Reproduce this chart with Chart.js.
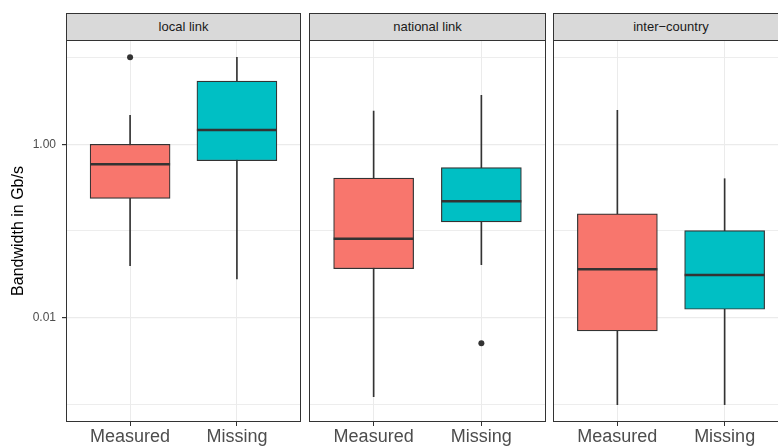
<!DOCTYPE html>
<html>
<head>
<meta charset="utf-8">
<script src="https://cdn.jsdelivr.net/npm/chart.js@4.4.0/dist/chart.umd.min.js"></script>
<style>
body { margin:0; background:#fff; width:778px; height:446px; overflow:hidden; position:relative;
  font-family:"Liberation Sans", Arial, sans-serif; }
.strip { position:absolute; top:13px; height:28px; box-sizing:border-box; background:#D9D9D9;
  border:1px solid #333; color:#1A1A1A; font-size:13px; line-height:26px; text-align:center; white-space:nowrap; }
.panel { position:absolute; top:38px; height:408px; }
</style>
</head>
<body>
<div class="strip" id="strip0"></div>
<div class="strip" id="strip1"></div>
<div class="strip" id="strip2"></div>
<div class="panel" id="box0"><canvas id="panel0"></canvas></div>
<div class="panel" id="box1"><canvas id="panel1"></canvas></div>
<div class="panel" id="box2"><canvas id="panel2"></canvas></div>
<script>
// Data (Bandwidth in Gb/s)
var panelNames = ['local link', 'national link', 'inter\u2212country'];
var groups = ['Measured', 'Missing'];
var groupColors = ['#F8766D', '#00BFC4'];

var whiskerLow  = [[0.0398, 0.0279], [0.00123, 0.0409], [0.000993, 0.000993]];
var boxLow      = [[0.238, 0.647], [0.0367, 0.127], [0.00703, 0.0125]];
var medians     = [[0.588, 1.46], [0.0815, 0.220], [0.0362, 0.0311]];
var boxHigh     = [[1.0, 5.37], [0.408, 0.537], [0.158, 0.1008]];
var whiskerHigh = [[2.16, 10.1], [2.42, 3.67], [2.47, 0.401]];
var outliers    = [[[10.1], []], [[], [0.00507]], [[], []]];

var yTicks = [10, 1, 0.1, 0.01, 0.001];
var yLabels = { '1': '1.00', '0.01': '0.01' };
var yMin = 0.000626;
var yMax = 15.96;

// Layout of the facets
var panelLeft = [66, 309, 553];
var panelWidth = [235, 237, 236];

var panelBorder = {
  id: 'panelBorder',
  afterDatasetsDraw: function(chart) {
    var a = chart.chartArea;
    var ctx = chart.ctx;
    ctx.save();
    ctx.strokeStyle = '#333333';
    ctx.lineWidth = 1;
    ctx.strokeRect(a.left + 0.5, a.top + 0.5, a.right - a.left - 1, a.bottom - a.top - 1);
    ctx.restore();
  }
};

function rangeData(lo, hi) {
  return groups.map(function(g, i) { return { x: i, y: [lo[i], hi[i]] }; });
}

makePanel = function(p) {
  var first = (p === 0);
  var axisWidth = first ? 66 : 0;
  var padLeft = first ? 0 : 2;

  var strip = document.getElementById('strip' + p);
  strip.textContent = panelNames[p];
  strip.style.left = panelLeft[p] + 'px';
  strip.style.width = panelWidth[p] + 'px';

  var box = document.getElementById('box' + p);
  box.style.left = (panelLeft[p] - axisWidth - padLeft) + 'px';
  box.style.width = (axisWidth + padLeft + panelWidth[p] + 3) + 'px';

  var outlierData = [];
  groups.forEach(function(g, i) {
    outliers[p][i].forEach(function(v) { outlierData.push({ x: i, y: v }); });
  });

  var ctx = document.getElementById('panel' + p).getContext('2d');
  new Chart(ctx, {
    type: 'bar',
    data: {
      datasets: [{
        label: 'whiskers',
        data: rangeData(whiskerLow[p], whiskerHigh[p]),
        backgroundColor: '#333333',
        borderWidth: 0,
        grouped: false,
        barThickness: 1,
        maxBarThickness: 1,
        order: 3
      }, {
        label: 'boxes',
        data: rangeData(boxLow[p], boxHigh[p]),
        backgroundColor: groupColors,
        borderColor: '#333333',
        borderWidth: 1.2,
        borderSkipped: false,
        grouped: false,
        barThickness: 80,
        maxBarThickness: 80,
        order: 2
      }, {
        type: 'line',
        label: 'median',
        data: groups.map(function(g, i) { return { x: i, y: medians[p][i] }; }),
        showLine: false,
        pointStyle: 'line',
        pointRadius: 40,
        borderColor: '#333333',
        borderWidth: 2.5,
        order: 1
      }, {
        type: 'line',
        label: 'outliers',
        data: outlierData,
        showLine: false,
        pointStyle: 'circle',
        pointRadius: 3,
        backgroundColor: '#333333',
        borderWidth: 0,
        order: 0
      }]
    },
    options: {
      responsive: true,
      maintainAspectRatio: false,
      animation: false,
      events: [],
      layout: { autoPadding: false, padding: { top: 2, left: padLeft, right: 3, bottom: 0 } },
      plugins: { legend: { display: false }, tooltip: { enabled: false } },
      scales: {
        x: {
          type: 'linear',
          min: -0.6,
          max: 1.6,
          offset: false,
          bounds: 'data',
          afterBuildTicks: function(scale) {
            scale.ticks = groups.map(function(g, i) { return { value: i }; });
          },
          afterFit: function(scale) {
            scale.height = 24;
            scale.paddingLeft = 0;
            scale.paddingRight = 0;
          },
          border: { display: false },
          grid: { offset: false, color: '#EBEBEB', lineWidth: 1, drawTicks: true, tickLength: 4, tickColor: '#333333' },
          ticks: {
            autoSkip: false,
            maxRotation: 0,
            padding: 0,
            color: '#4D4D4D',
            font: { family: 'Liberation Sans', size: 18 },
            callback: function(v) { return groups[v]; }
          }
        },
        y: {
          type: 'logarithmic',
          min: yMin,
          max: yMax,
          bounds: 'data',
          afterBuildTicks: function(scale) {
            scale.ticks = yTicks.map(function(v) { return { value: v }; });
          },
          afterFit: function(scale) {
            scale.width = axisWidth;
            scale.paddingTop = 0;
            scale.paddingBottom = 0;
          },
          border: { display: false },
          grid: {
            color: '#EBEBEB',
            lineWidth: function(c) { return (c.tick && yLabels[c.tick.value]) ? 1.2 : 0.9; },
            drawTicks: first,
            tickLength: 4,
            tickColor: function(c) { return (c.tick && yLabels[c.tick.value]) ? '#333333' : 'rgba(0,0,0,0)'; }
          },
          ticks: {
            display: first,
            autoSkip: false,
            padding: 6,
            color: '#4D4D4D',
            font: { family: 'Liberation Sans', size: 12 },
            callback: function(v) { return yLabels[v] || ''; }
          },
          title: {
            display: first,
            text: 'Bandwidth in Gb/s',
            color: '#000000',
            font: { family: 'Liberation Sans', size: 16 },
            padding: { top: 9, bottom: 0 }
          }
        }
      }
    },
    plugins: [panelBorder]
  });
};

for (var p = 0; p < panelNames.length; p++) {
  makePanel(p);
}
</script>
</body>
</html>
